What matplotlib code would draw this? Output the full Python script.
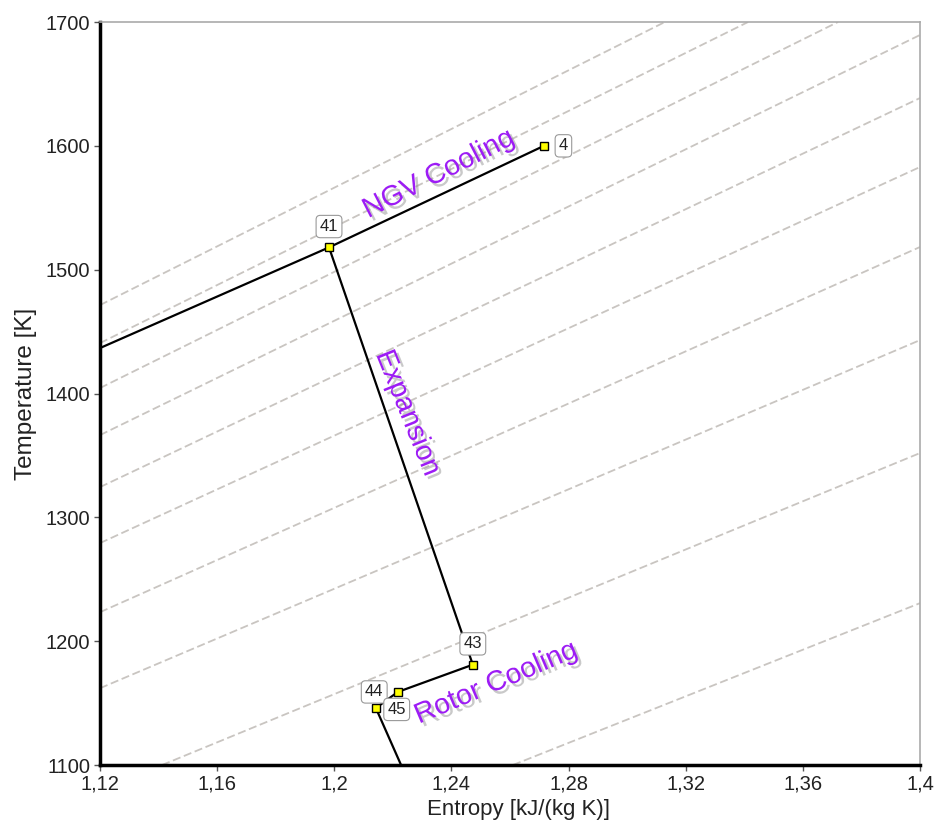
import matplotlib
matplotlib.use("Agg")
import matplotlib.pyplot as plt
import matplotlib.patheffects as pe

plt.rcParams['font.family'] = ['Liberation Sans', 'DejaVu Sans']

# ---- data ----
# main cycle path: 4 -> 41 -> 43 -> 44 -> 45 -> (continues below axis)
path_s = [1.2716, 1.1982, 1.2473, 1.2217, 1.2142, 1.2228]
path_T = [1600, 1518, 1181, 1159, 1146, 1100]
# segment leaving station 41 to the left
left_s = [1.12, 1.1982]
left_T = [1436.7, 1518]

station_names = ["4", "41", "43", "44", "45"]
station_s = [1.2716, 1.1982, 1.2473, 1.2217, 1.2142]
station_T = [1600, 1518, 1181, 1159, 1146]

# isobar lines (start / end points)
iso_s0 = [1.12, 1.12, 1.12, 1.12, 1.12, 1.12, 1.12, 1.12, 1.1412, 1.2610]
iso_T0 = [1471.4, 1440.7, 1404.4, 1366.4, 1324.4, 1279.2, 1223.4, 1162.0, 1100, 1100]
iso_s1 = [1.3129, 1.3413, 1.3720, 1.40, 1.40, 1.40, 1.40, 1.40, 1.40, 1.40]
iso_T1 = [1700, 1700, 1700, 1689.5, 1638.6, 1582.9, 1518.3, 1443.1, 1351.9, 1230.7]

xticks = [1.12, 1.16, 1.20, 1.24, 1.28, 1.32, 1.36, 1.40]
xtick_labels = ["1,12", "1,16", "1,2", "1,24", "1,28", "1,32", "1,36", "1,4"]
yticks = [1100, 1200, 1300, 1400, 1500, 1600, 1700]

fig = plt.figure(figsize=(9.36, 8.21), dpi=100)
ax = fig.add_axes([100/936, 1-765/821, 820/936, 743/821])

for a, b, c, d in zip(iso_s0, iso_T0, iso_s1, iso_T1):
    ax.plot([a, c], [b, d], color='#c9c5c1', lw=1.3, linestyle=(0, (4.5, 2)), zorder=1)

ax.plot(left_s, left_T, color='black', lw=1.6, zorder=3)
ax.plot(path_s, path_T, color='black', lw=1.6, zorder=3)
ax.plot(station_s, station_T, linestyle='none', marker='s', markersize=5.5,
        markerfacecolor='#ffff00', markeredgecolor='black', markeredgewidth=1.0, zorder=4)

label_offsets = [(14, 0), (0, 15), (0, 15), (-17, 0), (15, -1)]
for name, s, T, off in zip(station_names, station_s, station_T, label_offsets):
    ax.annotate(name, (s, T), xytext=off, textcoords='offset points',
                ha='center', va='center', fontsize=12, color='#222222', zorder=5,
                bbox=dict(boxstyle='round,pad=0.22,rounding_size=0.25', fc='white', ec='#999999', lw=0.8))

shadow = [pe.SimplePatchShadow(offset=(2.5, -2.5), shadow_rgbFace='#888888', alpha=0.45), pe.Normal()]
purple = '#9d1cf5'
ax.text(1.2358, 1577, "NGV Cooling", rotation=27, color=purple, fontsize=20.5,
        ha='center', va='center', path_effects=shadow, zorder=6)
ax.text(1.2249, 1384, "Expansion", rotation=-68, color=purple, fontsize=20.5,
        ha='center', va='center', path_effects=shadow, zorder=6)
ax.text(1.2554, 1166, "Rotor Cooling", rotation=23, color=purple, fontsize=20.5,
        ha='center', va='center', path_effects=shadow, zorder=6)

ax.set_xlim(1.12, 1.40)
ax.set_ylim(1100, 1700)
ax.set_xticks(xticks)
ax.set_xticklabels(xtick_labels)
ax.set_yticks(yticks)

for side in ['left', 'bottom']:
    ax.spines[side].set_color('black')
    ax.spines[side].set_linewidth(2.5)
for side in ['top', 'right']:
    ax.spines[side].set_color('#aaaaaa')
    ax.spines[side].set_linewidth(1.2)

ax.tick_params(axis='both', direction='out', length=4, width=1, color='#555555',
               labelsize=14.5, labelcolor='#222222', pad=3)

ax.set_xlabel("Entropy [kJ/(kg K)]", fontsize=16, color='#222222')
ax.xaxis.set_label_coords(0.51, -0.046, transform=ax.transAxes)
ax.xaxis.label.set_va('top')
ax.set_ylabel("Temperature [K]", fontsize=17.5, color='#222222')
ax.yaxis.set_label_coords((26 - 100) / 820, 0.5)
ax.yaxis.label.set_va('center')

fig.savefig("out.png", dpi=100, facecolor='white')
